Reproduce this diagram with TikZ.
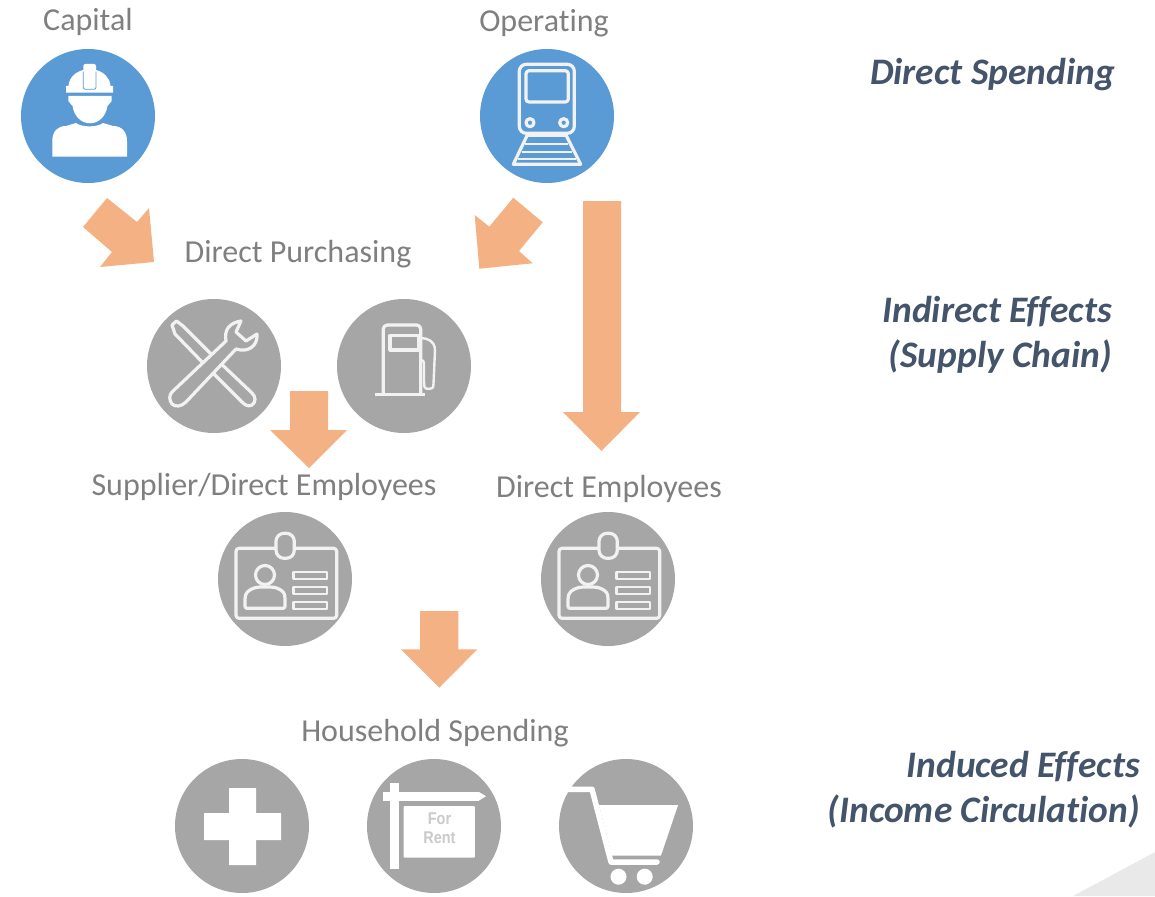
\documentclass[tikz,border=0pt]{standalone}
\usepackage{fontspec}
\setmainfont{Carlito}[Ligatures=NoCommon]
\newfontfamily\signfont{Liberation Sans}[FakeStretch=0.85]
\definecolor{discblue}{HTML}{5B9BD5}
\definecolor{discgrey}{HTML}{A6A6A6}
\definecolor{flowfill}{HTML}{F4B183}
\definecolor{iconline}{HTML}{F2F2F2}
\definecolor{labelgrey}{HTML}{7F7F7F}
\definecolor{levelslate}{HTML}{44546A}
\definecolor{cornergrey}{HTML}{E9E9E9}
\tikzset{
  bluedisc/.style={circle,fill=discblue,minimum size=134pt,inner sep=0pt},
  greydisc/.style={circle,fill=discgrey,minimum size=134pt,inner sep=0pt},
  flowarrow/.style={fill=flowfill},
  iconstroke/.style={draw=iconline,line width=3.2pt,line join=round},
  iconsolid/.style={fill=white},
  steplabel/.style={text=labelgrey,font=\fontsize{32}{38}\selectfont,inner sep=0pt,anchor=base},
  levellabel/.style={text=levelslate,font=\fontsize{37.4}{44}\selectfont\bfseries\itshape,inner sep=0pt,anchor=base east}
}
\begin{document}
\begin{tikzpicture}[x=1pt,y=-1pt]
  \useasboundingbox (0,0) rectangle (1155,896);
  \fill[cornergrey] (1073,896) -- (1155,852) -- (1155,896) -- cycle;

  \node[steplabel] (capitallabel) at (88,31) {Capital};
  \node[steplabel] (operatinglabel) at (544,32) {Operating};
  \node[steplabel] (purchasinglabel) at (298,262) {Direct Purchasing};
  \node[steplabel] (supplierlabel) at (264,495) {Supplier/Direct Employees};
  \node[steplabel] (employeeslabel) at (609,497) {Direct Employees};
  \node[steplabel] (householdlabel) at (435,741) {Household Spending};

  \node[levellabel] (directlevel) at (1115,85) {Direct Spending};
  \node[levellabel] (indirectlevel) at (1112,322) {Indirect Effects};
  \node[levellabel] (supplylevel) at (1112,367) {(Supply Chain)};
  \node[levellabel] (inducedlevel) at (1140,777) {Induced Effects};
  \node[levellabel] (incomelevel) at (1140,822) {(Income Circulation)};

  \node[bluedisc] (capital) at (88,116) {};
  \node[bluedisc] (operating) at (547,116) {};
  \node[greydisc] (tools) at (214,366) {};
  \node[greydisc] (fuel) at (404,366) {};
  \node[greydisc] (supplier) at (285,579) {};
  \node[greydisc] (employee) at (608,579) {};
  \node[greydisc] (health) at (242,826) {};
  \node[greydisc] (rent) at (434,826) {};
  \node[greydisc] (cart) at (626,826) {};

  \fill[flowarrow] (107,198) -- (137,222) -- (149,208) -- (154,262) -- (100,267) -- (112,252) -- (83,227) -- cycle;
  \fill[flowarrow] (513.3,197.7) -- (542.7,222.3) -- (519,251) -- (532.7,263.3) -- (479.3,268.7) -- (474.7,215) -- (489.3,226.7) -- cycle;
  \fill[flowarrow] (583,201) -- (621,201) -- (621,412) -- (640,412) -- (601.5,451) -- (563,412) -- (583,412) -- cycle;
  \fill[flowarrow] (290,391) -- (328,391) -- (328,430) -- (347,430) -- (309,468) -- (270,430) -- (290,430) -- cycle;
  \fill[flowarrow] (420,611) -- (458.3,611) -- (458.3,649.3) -- (477.3,649.3) -- (439.3,687.7) -- (401,649.3) -- (420,649.3) -- cycle;

  % worker
  \fill[iconsolid] (66,86) -- (68.5,86) .. controls (69,78) and (75,72) .. (83.3,70) -- (96,70) .. controls (104,72) and (110,78) .. (110.5,86) -- (113,86) -- (113,92.7) -- (66,92.7) -- cycle;
  \fill[iconsolid,rounded corners=2pt] (83.3,64) rectangle (96,89.3);
  \draw[discblue,line width=0.8pt,rounded corners=2pt] (83.3,71.7) -- (83.3,89.3) -- (96,89.3) -- (96,71.7);
  \fill[iconsolid] (68.3,96) -- (111.7,96) -- (111.7,101) -- (107.5,106) .. controls (106,116) and (99,123.3) .. (90,123.3) .. controls (81,123.3) and (74,116) .. (72.5,106) -- (68.3,101) -- cycle;
  \fill[iconsolid] (52.3,156.7) -- (52.3,141) .. controls (52.3,131) and (58,126) .. (66,126) -- (76,123) .. controls (82,127.5) and (97,127.5) .. (103,123) -- (113,126) .. controls (122,126) and (127,132) .. (127,141) -- (127,156.7) -- cycle;

  % train
  \draw[iconstroke,rounded corners=7pt] (519.3,64.3) rectangle (574.3,133.3);
  \draw[iconstroke,rounded corners=3pt] (526,70.7) rectangle (568.3,102);
  \draw[iconstroke] (530,122.7) circle (4);
  \draw[iconstroke] (563.7,122.7) circle (4);
  \draw[iconstroke] (528.3,133) -- (513.3,164.3) -- (580.7,164.3) -- (565,133);
  \draw[iconstroke,line width=2.4pt] (528,136) -- (565,136);
  \draw[iconstroke,line width=2.4pt] (525,144) -- (568,144);
  \draw[iconstroke,line width=2.4pt] (521.5,152) -- (572,152);
  \draw[iconstroke,line width=2.4pt] (518,159) -- (576,159);

  % screwdriver and wrench
  \draw[iconstroke,fill=discgrey] (172,325) -- (176.5,321) -- (183,326) -- (215,358) -- (252,393) .. controls (256,397) and (256,402) .. (252,405) .. controls (248,407) and (245,405) .. (242,402) -- (205,365) -- (175,334) -- cycle;
  \draw[iconstroke,fill=discgrey] (172,392) -- (226,341) .. controls (224,330) and (229,323) .. (241,321) -- (236,332) -- (246,341) -- (257,334) .. controls (258,346) and (248,353) .. (236,349) -- (186,402) .. controls (181,407) and (175,407) .. (172,404) .. controls (169,400) and (169,395) .. (172,392) -- cycle;

  % pump
  \draw[iconstroke,rounded corners=4pt] (383.3,393) -- (383.3,325) -- (420.7,325) -- (420.7,393);
  \draw[iconstroke] (375,394.5) -- (425,394.5);
  \draw[iconstroke] (390,335.7) rectangle (418.3,350);
  \draw[iconstroke,line width=2.4pt,rounded corners=3pt] (420.7,338) .. controls (428,338) and (434,342) .. (435,350) -- (433.5,384) .. controls (433,389) and (425,390) .. (424,384) -- (424,360) -- (420.7,360);

  % badges
  \foreach \badgex in {0,323}{
    \begin{scope}[xshift=\badgex pt]
      \draw[iconstroke,rounded corners=3pt] (236,548.3) rectangle (336.7,618.3);
      \draw[iconstroke,fill=discgrey,rounded corners=8pt] (276,533.3) rectangle (294.3,558.3);
      \draw[iconstroke] (265,575) circle (9.5);
      \draw[iconstroke,rounded corners=2pt] (245,608.3) -- (245,597) .. controls (247,590) and (254,588) .. (258,587) -- (272,587) .. controls (278,588) and (284,591) .. (285,597) -- (285,608.3) -- cycle;
      \draw[iconstroke,line width=2.4pt] (293.3,571.7) rectangle (326.7,579);
      \draw[iconstroke,line width=2.4pt] (293.3,586.7) rectangle (326.7,594);
      \draw[iconstroke,line width=2.4pt] (293.3,601.7) rectangle (326.7,609);
    \end{scope}
  }

  % cross
  \fill[iconsolid] (229,788) -- (256,788) -- (256,813) -- (281,813) -- (281,840) -- (256,840) -- (256,865) -- (229,865) -- (229,840) -- (204,840) -- (204,813) -- (229,813) -- cycle;

  % for rent
  \fill[iconsolid] (382.6,792) rectangle (479,800.5);
  \fill[iconsolid] (479,792) -- (486,796.2) -- (479,800.5) -- cycle;
  \fill[iconsolid] (389.9,783) rectangle (399.2,869);
  \fill[iconsolid,rounded corners=1pt] (403.6,806) rectangle (474.9,857.7);
  \node[text=discgrey!60!white,font=\signfont\fontsize{17}{19}\selectfont\bfseries,align=center,inner sep=0pt] (rentsign) at (439.5,828.5) {For\\Rent};

  % shopping cart
  \fill[iconsolid] (598.9,805) -- (678.1,805) -- (660.9,855.7) -- (612,855.7) -- cycle;
  \draw[white,line width=5.5pt,line join=round,line cap=round] (568,789.3) -- (592,789.3) -- (611,862) -- (657,862);
  \fill[iconsolid] (618.5,876.7) circle (8);
  \fill[iconsolid] (644.7,876.7) circle (8);
\end{tikzpicture}
\end{document}
